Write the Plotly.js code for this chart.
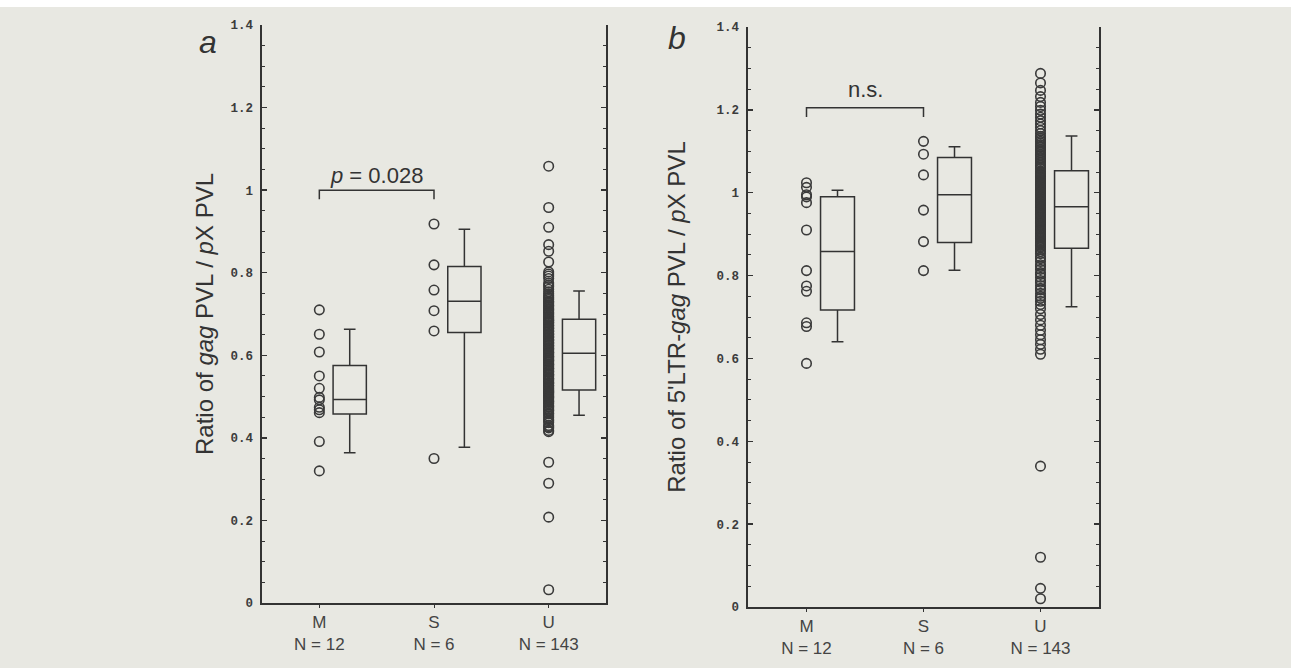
<!DOCTYPE html>
<html><head><meta charset="utf-8">
<script src="https://cdn.plot.ly/plotly-3.0.1.min.js"></script>
<style>html,body{margin:0;padding:0;background:#e8e8e2;}#chart{width:1291px;height:668px;}</style>
</head><body><div id="chart"></div>
<script>
// ---------- data ----------
const categories = ['M', 'S', 'U'];

// Panel a: ratio of gag PVL / pX PVL
const gagM = [0.710, 0.651, 0.608, 0.550, 0.520, 0.498, 0.492, 0.474, 0.468, 0.461, 0.391, 0.320];
const gagS = [0.918, 0.819, 0.758, 0.708, 0.659, 0.350];
const gagU = [
  0.032, 0.208, 0.290, 0.341,
  0.415, 0.418, 0.424, 0.427, 0.430, 0.437, 0.441, 0.444, 0.449, 0.453,
  0.458, 0.460, 0.465, 0.467, 0.470, 0.474, 0.476, 0.479, 0.483, 0.486, 0.488,
  0.490, 0.494, 0.497, 0.499, 0.501, 0.504, 0.507, 0.509, 0.511, 0.513, 0.515,
  0.518, 0.520, 0.523, 0.526, 0.527, 0.531, 0.533, 0.534, 0.538, 0.541,
  0.543, 0.544, 0.548, 0.551, 0.553, 0.554, 0.558, 0.561, 0.562, 0.566,
  0.568, 0.569, 0.573, 0.576, 0.578, 0.579, 0.583, 0.586, 0.588, 0.589,
  0.593, 0.595, 0.597, 0.598, 0.602, 0.605,
  0.607, 0.608, 0.612, 0.615, 0.616, 0.618, 0.622, 0.623, 0.625, 0.629,
  0.630, 0.632, 0.636, 0.637, 0.639, 0.643, 0.644, 0.646, 0.650, 0.651,
  0.653, 0.657, 0.658, 0.660, 0.664, 0.665, 0.667, 0.671, 0.672, 0.674,
  0.678, 0.679, 0.681, 0.684, 0.685, 0.687,
  0.690, 0.693, 0.695, 0.699, 0.702, 0.704, 0.708, 0.711, 0.713, 0.717,
  0.720, 0.722, 0.726, 0.729, 0.731, 0.735, 0.738, 0.741, 0.745, 0.749, 0.754,
  0.760, 0.766, 0.770, 0.775, 0.786, 0.792, 0.797, 0.802, 0.826, 0.852, 0.868,
  0.910, 0.958, 1.058
];
// box summaries (10th pct, Q1, median, Q3, 90th pct) per category
const gagLower  = [0.364, 0.377, 0.455];
const gagQ1     = [0.458, 0.655, 0.516];
const gagMedian = [0.493, 0.731, 0.605];
const gagQ3     = [0.575, 0.815, 0.687];
const gagUpper  = [0.663, 0.905, 0.756];

// Panel b: ratio of 5'LTR-gag PVL / pX PVL
const ltrM = [1.024, 1.013, 0.995, 0.990, 0.976, 0.910, 0.812, 0.775, 0.762, 0.686, 0.677, 0.588];
const ltrS = [1.124, 1.093, 1.043, 0.958, 0.882, 0.812];
const ltrU = [
  0.020, 0.045, 0.120, 0.340,
  0.610, 0.622, 0.634, 0.645, 0.657, 0.668, 0.680, 0.693, 0.706, 0.720,
  0.730, 0.738, 0.745, 0.750, 0.757, 0.765, 0.769, 0.776, 0.784, 0.788,
  0.796, 0.803, 0.807, 0.815, 0.822, 0.826, 0.834, 0.841, 0.845, 0.853, 0.858, 0.863,
  0.868, 0.870, 0.873, 0.876, 0.879, 0.881, 0.884, 0.887, 0.890, 0.893,
  0.895, 0.898, 0.901, 0.904, 0.906, 0.909, 0.912, 0.915, 0.918, 0.920,
  0.923, 0.926, 0.929, 0.931, 0.934, 0.937, 0.940, 0.942, 0.945, 0.948,
  0.951, 0.954, 0.956, 0.959, 0.962, 0.965,
  0.968, 0.971, 0.973, 0.975, 0.978, 0.980, 0.983, 0.985, 0.987, 0.990,
  0.992, 0.995, 0.997, 1.000, 1.002, 1.004, 1.007, 1.009, 1.012, 1.014,
  1.016, 1.019, 1.021, 1.024, 1.026, 1.028, 1.031, 1.033, 1.036, 1.038,
  1.040, 1.043, 1.045, 1.047, 1.050, 1.052,
  1.058, 1.062, 1.066, 1.070, 1.074, 1.078, 1.082, 1.085, 1.089, 1.093,
  1.097, 1.101, 1.105, 1.109, 1.112, 1.116, 1.120, 1.124, 1.128, 1.132, 1.136,
  1.143, 1.150, 1.158, 1.166, 1.174, 1.182, 1.190, 1.199, 1.208, 1.218,
  1.232, 1.247, 1.265, 1.288
];
const ltrLower  = [0.640, 0.813, 0.725];
const ltrQ1     = [0.717, 0.880, 0.866];
const ltrMedian = [0.858, 0.995, 0.966];
const ltrQ3     = [0.990, 1.085, 1.053];
const ltrUpper  = [1.006, 1.111, 1.137];

// ---------- styling ----------
const INK = '#333333';
const BOX_SHIFT = 0.265;   // box drawn to the right of its point column
const W = 1291, H = 668;
const SANS = 'Liberation Sans, Arial, sans-serif';

function panelTraces(groups, lower, q1, med, q3, upper, xa, ya) {
  const pos = categories.map((c, i) => i + 1);
  const px = [], py = [];
  groups.forEach((g, i) => g.forEach(v => { px.push(pos[i]); py.push(v); }));
  return [
    {
      type: 'scatter', mode: 'markers', x: px, y: py, xaxis: xa, yaxis: ya,
      marker: {symbol: 'circle-open', size: 9.5, color: '#3a3a3a', line: {width: 1.6, color: '#3a3a3a'}},
      hoverinfo: 'y', showlegend: false
    },
    {
      type: 'box', orientation: 'v', xaxis: xa, yaxis: ya,
      x: pos.map(p => p + BOX_SHIFT),
      q1: q1, median: med, q3: q3, lowerfence: lower, upperfence: upper,
      width: 0.29, whiskerwidth: 0.35, boxpoints: false,
      line: {color: INK, width: 1.5}, fillcolor: 'rgba(0,0,0,0)',
      showlegend: false, hoverinfo: 'skip'
    }
  ];
}

function ticktextFor(groups) {
  return categories.map((c, i) => c + '<br>N = ' + groups[i].length);
}

const groupsA = [gagM, gagS, gagU];
const groupsB = [ltrM, ltrS, ltrU];

const data = [
  ...panelTraces(groupsA, gagLower, gagQ1, gagMedian, gagQ3, gagUpper, 'x', 'y'),
  ...panelTraces(groupsB, ltrLower, ltrQ1, ltrMedian, ltrQ3, ltrUpper, 'x2', 'y2')
];

function xAxis(domain, anchor, groups) {
  return {
    domain: domain, anchor: anchor, range: [0.5, 3.5],
    tickvals: [1, 2, 3], ticktext: ticktextFor(groups),
    showline: true, linecolor: INK, linewidth: 1.6,
    ticks: 'outside', ticklen: 3, tickwidth: 1, tickcolor: INK,
    tickfont: {family: SANS, size: 17, color: '#444'},
    showgrid: false, zeroline: false, fixedrange: true
  };
}
function yAxis(domain, anchor, title, standoff) {
  return {
    domain: domain, anchor: anchor, range: [0, 1.4],
    tick0: 0, dtick: 0.2,
    ticks: 'inside', ticklen: 5, tickwidth: 1.5, tickcolor: INK,
    minor: {dtick: 0.05, ticks: 'inside', ticklen: 3, tickwidth: 1, tickcolor: INK, showgrid: false},
    showline: true, linecolor: INK, linewidth: 1.6, mirror: 'ticks',
    ticklabelstandoff: 5,
    tickfont: {family: 'Liberation Mono, DejaVu Sans Mono, monospace', size: 12.5, weight: 'bold', color: '#3c3c3c'},
    title: {text: title, standoff: standoff, font: {family: SANS, size: 24, color: INK}},
    showgrid: false, zeroline: false, fixedrange: true
  };
}

const layout = {
  width: W, height: H,
  margin: {l: 0, r: 0, t: 0, b: 0},
  paper_bgcolor: '#e8e8e2', plot_bgcolor: 'rgba(0,0,0,0)',
  showlegend: false,
  xaxis: xAxis([262 / W, 606 / W], 'y', groupsA),
  yaxis: yAxis([1 - 603 / H, 1 - 25 / H], 'x', 'Ratio of <i>gag</i> PVL / <i>p</i>X PVL', 10),
  xaxis2: xAxis([748 / W, 1099 / W], 'y2', groupsB),
  yaxis2: yAxis([1 - 607 / H, 1 - 27 / H], 'x2', "Ratio of 5'LTR-<i>gag</i> PVL / <i>p</i>X PVL", 24),
  shapes: [
    {type: 'rect', xref: 'paper', yref: 'paper', x0: 0, x1: 1, y0: 1 - 7 / H, y1: 1,
     fillcolor: '#ffffff', line: {width: 0}, layer: 'below'},
    {type: 'path', xref: 'x', yref: 'y', path: 'M1,0.978 L1,1.0 L2,1.0 L2,0.978',
     line: {color: INK, width: 1.5}},
    {type: 'path', xref: 'x2', yref: 'y2', path: 'M1,1.183 L1,1.205 L2,1.205 L2,1.183',
     line: {color: INK, width: 1.5}}
  ],
  annotations: [
    {xref: 'paper', yref: 'paper', x: 208 / W, y: 1 - 42 / H, xanchor: 'center', yanchor: 'middle',
     text: '<i>a</i>', showarrow: false, font: {family: SANS, size: 32, color: INK}},
    {xref: 'paper', yref: 'paper', x: 677 / W, y: 1 - 38 / H, xanchor: 'center', yanchor: 'middle',
     text: '<i>b</i>', showarrow: false, font: {family: SANS, size: 32, color: INK}},
    {xref: 'x', yref: 'y', x: 1.5, y: 1.035, xanchor: 'center', yanchor: 'middle',
     text: '<i>p</i> = 0.028', showarrow: false, font: {family: SANS, size: 22, color: INK}},
    {xref: 'x2', yref: 'y2', x: 1.5, y: 1.25, xanchor: 'center', yanchor: 'middle',
     text: 'n.s.', showarrow: false, font: {family: SANS, size: 22, color: INK}}
  ]
};

Plotly.newPlot('chart', data, layout, {staticPlot: true, displayModeBar: false});
</script></body></html>
